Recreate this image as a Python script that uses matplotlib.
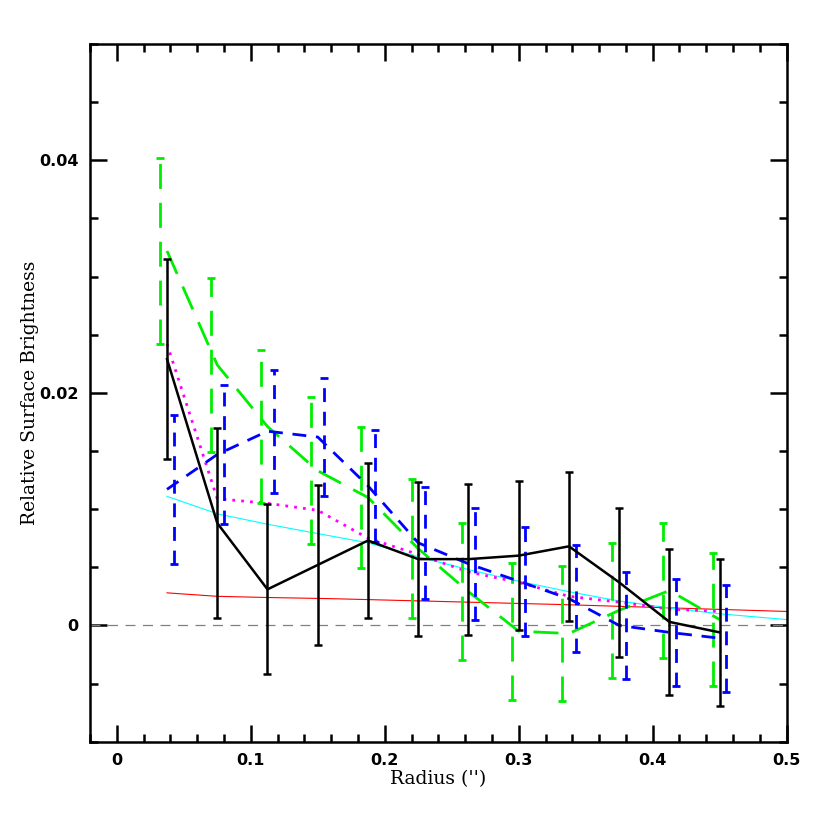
import matplotlib
matplotlib.use('Agg')
import matplotlib.pyplot as plt
import numpy as np
from matplotlib.ticker import MultipleLocator

# radial bins (arcsec)
radius = [0.0375, 0.075, 0.1125, 0.15, 0.1875, 0.225, 0.2625, 0.30, 0.3375, 0.375, 0.4125, 0.45]

# black: data
sb_black = [0.0229, 0.0088, 0.0031, 0.0052, 0.0073, 0.0057, 0.0057, 0.0060, 0.0068, 0.0037, 0.0003, -0.0006]
err_black = [0.0086, 0.0082, 0.0073, 0.0069, 0.0067, 0.0066, 0.0065, 0.0064, 0.0064, 0.0064, 0.0063, 0.0063]

# green: long dashes
sb_green = [0.0322, 0.0224, 0.0171, 0.0133, 0.0110, 0.0066, 0.0029, -0.0005, -0.0007, 0.0013, 0.0030, 0.0005]
err_green = [0.0080, 0.0075, 0.0066, 0.0063, 0.0061, 0.0060, 0.0059, 0.0059, 0.0058, 0.0058, 0.0058, 0.0057]

# blue: short dashes
sb_blue = [0.0117, 0.0147, 0.0167, 0.0162, 0.0120, 0.0071, 0.0053, 0.0038, 0.0023, 0.0000, -0.0006, -0.0011]
err_blue = [0.0064, 0.0060, 0.0053, 0.0051, 0.0048, 0.0048, 0.0048, 0.0047, 0.0046, 0.0046, 0.0046, 0.0046]

# magenta dotted
sb_magenta = [0.0242, 0.0109, 0.0105, 0.0099, 0.0075, 0.0061, 0.0046, 0.0037, 0.0025, 0.0020, 0.0014, 0.0012]

# cyan model
r_cyan = [0.0375, 0.075, 0.1125, 0.15, 0.1875, 0.225, 0.2625, 0.30, 0.3375, 0.375, 0.4125, 0.45, 0.5]
sb_cyan = [0.0111, 0.0096, 0.0087, 0.0079, 0.0071, 0.0059, 0.0048, 0.0038, 0.0029, 0.0021, 0.0015, 0.0010, 0.0005]

# red model
r_red = [0.0375, 0.075, 0.1125, 0.16, 0.33, 0.5]
sb_red = [0.0028, 0.0025, 0.0024, 0.0023, 0.0018, 0.0012]

shift = 0.005   # horizontal offset of the error bars

fig = plt.figure(figsize=(8.3, 8.3), dpi=100)
ax = fig.add_axes([0.1084, 0.1064, 0.8394, 0.8406])

ax.axhline(0, color='gray', lw=0.9, dashes=(8, 6))
ax.plot(r_red, sb_red, color='red', lw=0.8)
ax.plot(r_cyan, sb_cyan, color='cyan', lw=0.8)
ax.plot(radius, sb_magenta, color='magenta', lw=2, linestyle=(0, (1, 2.2)))

r = np.array(radius)

ax.plot(radius, sb_green, color='#00ee00', lw=2, dashes=(9, 5))
eb = ax.errorbar(r - shift, sb_green, yerr=err_green, fmt='none', ecolor='#00ee00',
                 elinewidth=2, capsize=3, capthick=2)
eb[2][0].set_linestyle((0, (9, 5)))

ax.plot(radius, sb_blue, color='blue', lw=2, dashes=(5, 3.5))
eb = ax.errorbar(r + shift, sb_blue, yerr=err_blue, fmt='none', ecolor='blue',
                 elinewidth=2, capsize=3, capthick=2)
eb[2][0].set_linestyle((0, (5, 3.5)))

ax.plot(radius, sb_black, color='black', lw=1.8)
ax.errorbar(radius, sb_black, yerr=err_black, fmt='none', ecolor='black',
            elinewidth=1.8, capsize=3, capthick=1.8)

ax.set_xlim(-0.02, 0.5)
ax.set_ylim(-0.01, 0.05)
ax.xaxis.set_major_locator(MultipleLocator(0.1))
ax.xaxis.set_minor_locator(MultipleLocator(0.02))
ax.yaxis.set_major_locator(MultipleLocator(0.02))
ax.yaxis.set_minor_locator(MultipleLocator(0.005))
ax.set_xticks([0, 0.1, 0.2, 0.3, 0.4, 0.5])
ax.set_xticklabels(['0', '0.1', '0.2', '0.3', '0.4', '0.5'])
ax.set_yticks([0, 0.02, 0.04])
ax.set_yticklabels(['0', '0.02', '0.04'])
ax.tick_params(which='both', direction='in', top=True, right=True, width=1.8)
ax.tick_params(which='major', length=12, labelsize=11.5, pad=8)
ax.tick_params(which='minor', length=6)
for lab in ax.get_xticklabels() + ax.get_yticklabels():
    lab.set_fontweight('bold')
for s in ax.spines.values():
    s.set_linewidth(1.8)

ax.set_xlabel("Radius ('')", family='DejaVu Serif', fontsize=13.5, labelpad=2)
ax.set_ylabel('Relative Surface Brightness', family='DejaVu Serif', fontsize=13.5, labelpad=0)

plt.savefig('out.png', dpi=100)
